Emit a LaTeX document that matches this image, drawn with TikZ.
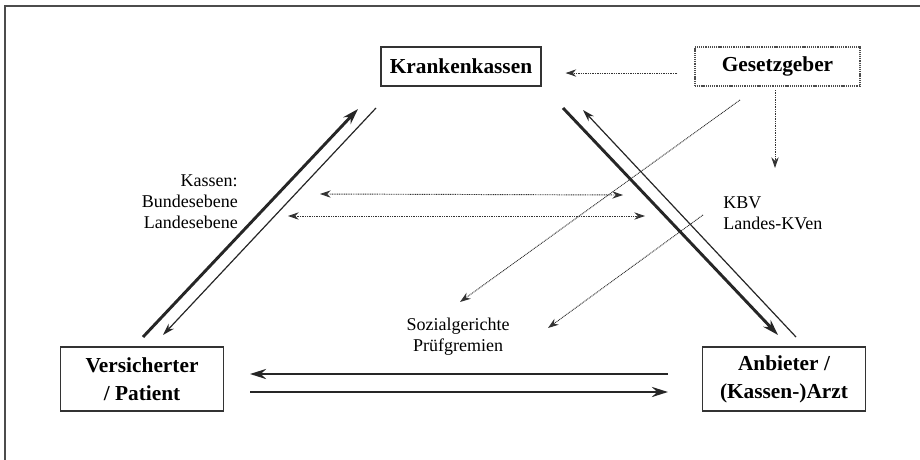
\documentclass[tikz,border=0pt]{standalone}
\usepackage{fontspec}
\setmainfont{Liberation Serif}
\usetikzlibrary{positioning, arrows.meta, calc}

\begin{document}
\begin{tikzpicture}[
  x=0.75pt, y=-0.75pt,
  box/.style={draw=black!80, line width=0.9pt, minimum width=120pt, minimum height=29.25pt,
              align=center, inner sep=2pt, font=\fontsize{16}{21}\selectfont\bfseries},
  bigbox/.style={box, minimum width=122pt, minimum height=48pt},
  lawbox/.style={box, draw=black!70, dash pattern=on 0.8pt off 0.6pt},
  lbl/.style={inner sep=0pt, font=\fontsize{13.5}{15.75}\selectfont},
  heavy/.style={-{Stealth[length=12pt, width=7.5pt]}, line width=2.2pt, draw=black!85},
  light/.style={-{Stealth[length=9pt, width=5.5pt]}, line width=0.9pt, draw=black!85},
  dots/.style={-{Stealth[length=8pt, width=5.5pt]}, line width=0.7pt, draw=black!80,
               dash pattern=on 0.7pt off 0.6pt},
  bothdots/.style={dots, {Stealth[length=8pt, width=5.5pt]}-{Stealth[length=8pt, width=5.5pt]}},
]
\useasboundingbox (0,0) rectangle (920,460);
% frame
\draw[black!70, line width=0.8pt] (5,460) -- (5,6) -- (920,6);
% actors
\node[box]               (kk)  at (461,66.5) {Krankenkassen};
\node[lawbox, minimum width=123.75pt] (ges) at (777.5,66.5) {Gesetzgeber};
\node[bigbox]            (vers) at (142,379) {Versicherter\\/ Patient};
\node[bigbox]            (anb)  at (784,379) {Anbieter /\\(Kassen-)Arzt};
% levels
\node[lbl, align=right, anchor=east] (kas) at (238,202) {Kassen:\\Bundesebene\\Landesebene};
\node[lbl, align=left, anchor=west]  (kv)  at (723,213) {KBV\\Landes-KVen};
\node[lbl, align=center]             (soz) at (458,337) {Sozialgerichte\\Prüfgremien};
% arrow ends
\coordinate (vk1) at (143,337); \coordinate (vk2) at (358,109);
\coordinate (kv1) at (376,108); \coordinate (kv2) at (163,335);
\coordinate (ka1) at (563,108); \coordinate (ka2) at (778,335);
\coordinate (ak1) at (796,337); \coordinate (ak2) at (583,110);
\coordinate (av1) at (668,374); \coordinate (av2) at (250,374);
\coordinate (va1) at (250,392); \coordinate (va2) at (668,392);
\coordinate (up1) at (320,194); \coordinate (up2) at (623,195);
\coordinate (lo1) at (288,216); \coordinate (lo2) at (645,216);
\coordinate (gs1) at (740,100); \coordinate (gs2) at (460,302);
\coordinate (kp1) at (703,215); \coordinate (kp2) at (548,328);
\coordinate (gk1) at (775,90);  \coordinate (gk2) at (775,168);
% triangle
\draw[heavy] (vk1) -- (vk2);
\draw[light] (kv1) -- (kv2);
\draw[heavy] (ka1) -- (ka2);
\draw[light] (ak1) -- (ak2);
\draw[heavy] (av1) -- (av2);
\draw[heavy] (va1) -- (va2);
% regulation
\draw[dots, shorten <=17*0.75pt, shorten >=24*0.75pt] ([yshift=-4.9pt]ges.west) -- ([yshift=-4.9pt]kk.east);
\draw[dots] (gk1) -- (gk2);
\draw[dots] (gs1) -- (gs2);
\draw[dots] (kp1) -- (kp2);
\draw[bothdots] (up1) -- (up2);
\draw[bothdots] (lo1) -- (lo2);
\end{tikzpicture}
\end{document}
